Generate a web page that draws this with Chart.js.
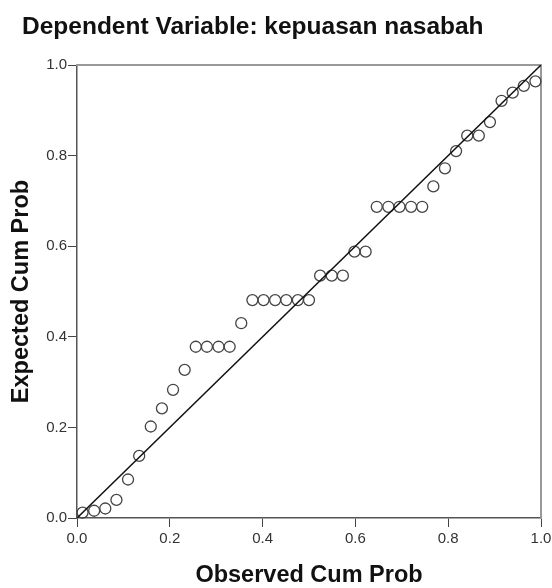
<!DOCTYPE html>
<html>
<head>
<meta charset="utf-8">
<script src="https://cdn.jsdelivr.net/npm/chart.js@4"></script>
<style>
  html, body { margin: 0; padding: 0; background: #fff; }
  #wrap { width: 552px; height: 588px; }
</style>
</head>
<body>
<div id="wrap"><canvas id="ppPlot" width="552" height="588"></canvas></div>
<script>
// Observed vs expected cumulative probability
const observedCum = [0.012, 0.037, 0.061, 0.085, 0.110, 0.134, 0.159, 0.183, 0.207, 0.232,
  0.256, 0.280, 0.305, 0.329, 0.354, 0.378, 0.402, 0.427, 0.451, 0.476,
  0.500, 0.524, 0.549, 0.573, 0.598, 0.622, 0.646, 0.671, 0.695, 0.720,
  0.744, 0.768, 0.793, 0.817, 0.841, 0.866, 0.890, 0.915, 0.939, 0.963, 0.988];
const expectedCum = [0.012, 0.016, 0.021, 0.040, 0.085, 0.137, 0.202, 0.242, 0.283, 0.327,
  0.378, 0.378, 0.378, 0.378, 0.430, 0.481, 0.481, 0.481, 0.481, 0.481,
  0.481, 0.535, 0.535, 0.535, 0.588, 0.588, 0.687, 0.687, 0.687, 0.687,
  0.687, 0.732, 0.772, 0.810, 0.844, 0.844, 0.874, 0.921, 0.939, 0.954, 0.964];
// reference diagonal
const diagX = [0, 1];
const diagY = [0, 1];

const titleText = "Dependent Variable: kepuasan nasabah";
const FONT = "'Liberation Sans', Arial, sans-serif";

// title drawn at a fixed spot like the SPSS output
const titlePlugin = {
  id: "topTitle",
  afterDraw(chart) {
    const c = chart.ctx;
    c.save();
    c.font = "bold 24.5px " + FONT;
    c.fillStyle = "#111";
    c.textBaseline = "alphabetic";
    c.textAlign = "left";
    c.fillText(titleText, 22, 34);
    c.restore();
  },
};

const ctx = document.getElementById("ppPlot").getContext("2d");

new Chart(ctx, {
  type: "scatter",
  data: {
    datasets: [
      {
        type: "line",
        data: diagX.map((x, i) => ({ x: x, y: diagY[i] })),
        borderColor: "#111",
        borderWidth: 1.5,
        pointRadius: 0,
        fill: false,
        order: 0,
      },
      {
        data: observedCum.map((x, i) => ({ x: x, y: expectedCum[i] })),
        pointStyle: "circle",
        pointRadius: 5.5,
        pointBorderColor: "#444",
        pointBorderWidth: 1.3,
        pointBackgroundColor: "rgba(0,0,0,0)",
        clip: false,
        order: 1,
      },
    ],
  },
  options: {
    responsive: false,
    animation: false,
    layout: { padding: { top: 65, right: 11, left: 0, bottom: 0 } },
    plugins: {
      legend: { display: false },
      tooltip: { enabled: false },
    },
    scales: {
      x: {
        type: "linear",
        position: "bottom",
        min: 0,
        max: 1,
        afterFit: (s) => {
          s.height = 70;
          // let the plot run right up to the edge; the last label may overhang
          s.paddingLeft = 0;
          s.paddingRight = 0;
        },
        ticks: {
          stepSize: 0.2,
          padding: 3,
          color: "#333",
          font: { family: FONT, size: 15 },
          callback: (v) => v.toFixed(1),
        },
        grid: { drawOnChartArea: false, drawTicks: true, tickLength: 9, tickColor: "#444" },
        border: { color: "#555", width: 1.5 },
        title: {
          display: true,
          text: "Observed Cum Prob",
          color: "#111",
          font: { family: FONT, size: 23.5, weight: "bold", lineHeight: 1 },
          padding: { top: 1, bottom: 1 },
        },
      },
      y: {
        type: "linear",
        position: "left",
        min: 0,
        max: 1,
        afterFit: (s) => {
          s.width = 77;
          s.paddingTop = 0;
          s.paddingBottom = 0;
        },
        ticks: {
          stepSize: 0.2,
          padding: 1,
          color: "#333",
          font: { family: FONT, size: 15 },
          callback: (v) => v.toFixed(1),
        },
        grid: { drawOnChartArea: false, drawTicks: true, tickLength: 9, tickColor: "#444" },
        border: { color: "#555", width: 1.5 },
        title: {
          display: true,
          text: "Expected Cum Prob",
          color: "#111",
          font: { family: FONT, size: 23.5, weight: "bold", lineHeight: 1 },
          padding: { top: 10, bottom: 10 },
        },
      },
      x2: {
        type: "linear",
        position: "top",
        min: 0,
        max: 1,
        afterFit: (s) => { s.height = 0; },
        ticks: { display: false },
        grid: { drawOnChartArea: false, drawTicks: false },
        border: { color: "#999", width: 2 },
      },
      y2: {
        type: "linear",
        position: "right",
        min: 0,
        max: 1,
        afterFit: (s) => { s.width = 0; },
        ticks: { display: false },
        grid: { drawOnChartArea: false, drawTicks: false },
        border: { color: "#999", width: 2 },
      },
    },
  },
  plugins: [titlePlugin],
});
</script>
</body>
</html>
